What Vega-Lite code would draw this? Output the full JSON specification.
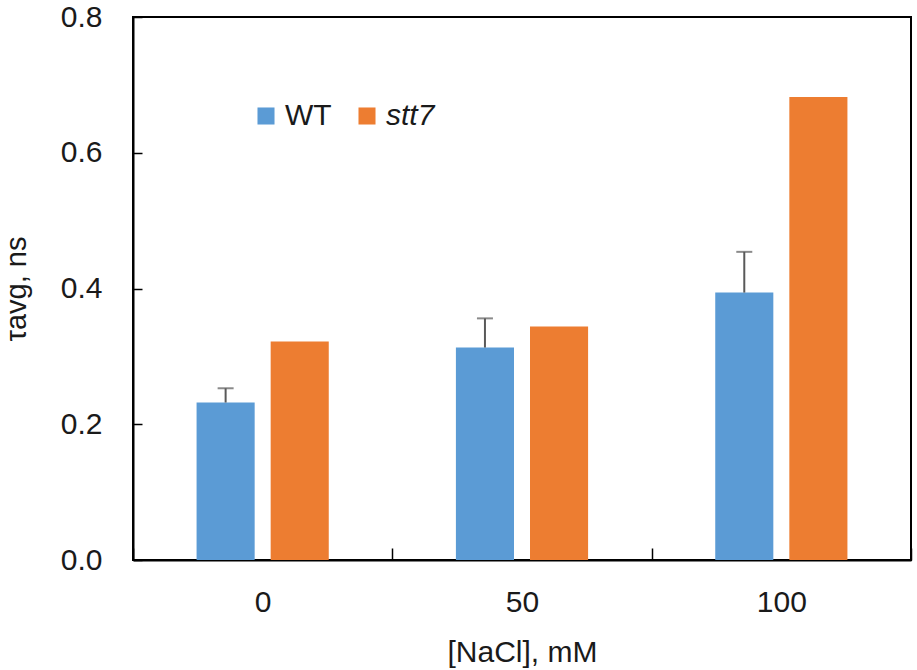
{
  "$schema": "https://vega.github.io/schema/vega-lite/v6.json",
  "autosize": {"type": "none"},
  "width": 778,
  "height": 543,
  "padding": {"left": 133, "top": 17, "right": 6, "bottom": 110},
  "background": "white",
  "config": {
    "font": "Liberation Sans",
    "view": {"stroke": "black", "strokeWidth": 2}
  },
  "data": {
    "values": [
      {"nacl": "0", "strain": "WT", "tau": 0.232, "upper": 0.253},
      {"nacl": "0", "strain": "stt7", "tau": 0.322},
      {"nacl": "50", "strain": "WT", "tau": 0.313, "upper": 0.356},
      {"nacl": "50", "strain": "stt7", "tau": 0.344},
      {"nacl": "100", "strain": "WT", "tau": 0.394, "upper": 0.454},
      {"nacl": "100", "strain": "stt7", "tau": 0.682}
    ]
  },
  "encoding": {
    "x": {
      "field": "nacl", "type": "nominal", "sort": ["0", "50", "100"],
      "scale": {"paddingInner": 0, "paddingOuter": 0},
      "axis": {
        "title": "[NaCl], mM", "titleFont": "Liberation Sans", "titleFontSize": 30, "titleFontWeight": "normal",
        "titleColor": "#1a1a1a", "titlePadding": 20,
        "labelAngle": 0, "labelFontSize": 30, "labelColor": "#1a1a1a", "labelPadding": 39,
        "tickBand": "extent", "tickSize": -12, "tickColor": "black", "tickWidth": 1.5,
        "domainColor": "black", "domainWidth": 2, "grid": false
      }
    },
    "xOffset": {
      "field": "strain", "type": "nominal", "sort": ["WT", "stt7"],
      "scale": {"paddingInner": 0.216, "paddingOuter": 0.858}
    }
  },
  "layer": [
    {
      "mark": {"type": "bar"},
      "encoding": {
        "y": {
          "field": "tau", "type": "quantitative",
          "scale": {"domain": [0, 0.8]},
          "axis": {
            "title": "τavg, ns", "titleFont": "Liberation Sans", "titleFontSize": 29, "titleFontWeight": "normal",
            "titleColor": "#1a1a1a", "titlePadding": 29,
            "values": [0, 0.2, 0.4, 0.6, 0.8], "format": ".1f",
            "labelFontSize": 30, "labelColor": "#1a1a1a", "labelPadding": 40,
            "tickSize": -9, "tickColor": "black", "tickWidth": 1.5,
            "domainColor": "black", "domainWidth": 2, "grid": false
          }
        },
        "color": {
          "field": "strain", "type": "nominal", "sort": ["WT", "stt7"],
          "scale": {"domain": ["WT", "stt7"], "range": ["#5B9BD5", "#ED7D31"]},
          "legend": {
            "title": null, "orient": "none", "legendX": 118, "legendY": 84,
            "direction": "horizontal", "symbolType": "square", "symbolSize": 290,
            "symbolStrokeWidth": 0, "labelFontSize": 30, "labelColor": "#1a1a1a",
            "columnPadding": 20, "labelOffset": 4,
            "encode": {"labels": {"update": {"fontStyle": {"signal": "datum.label == 'stt7' ? 'italic' : 'normal'"}}}}
          }
        }
      }
    },
    {
      "transform": [{"filter": "isValid(datum.upper)"}],
      "mark": {"type": "rule", "color": "#595959", "strokeWidth": 2},
      "encoding": {
        "y": {"field": "tau", "type": "quantitative"},
        "y2": {"field": "upper"}
      }
    },
    {
      "transform": [{"filter": "isValid(datum.upper)"}],
      "mark": {"type": "tick", "color": "#595959", "thickness": 2, "size": 16, "orient": "horizontal"},
      "encoding": {
        "y": {"field": "upper", "type": "quantitative"}
      }
    }
  ]
}
